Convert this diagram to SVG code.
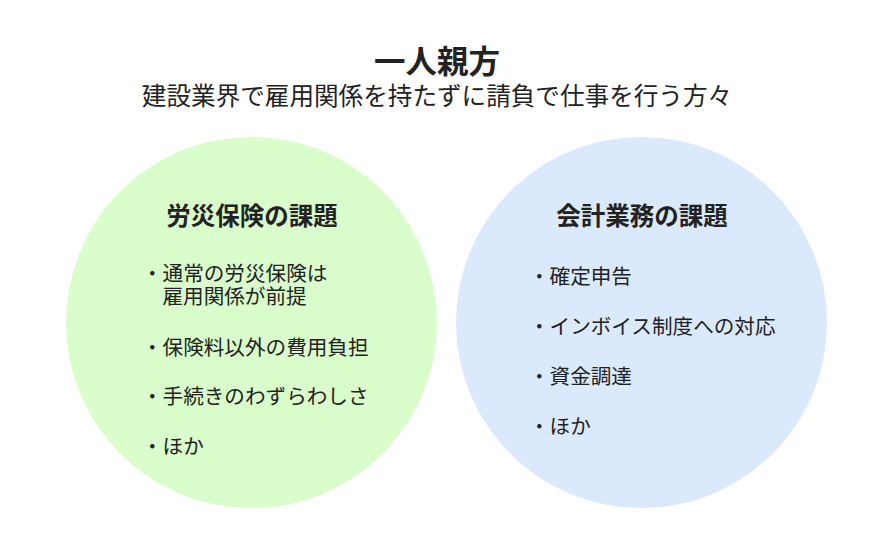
<svg xmlns="http://www.w3.org/2000/svg" width="893" height="553" viewBox="0 0 893 553">
<style>
text{font-family:"Noto Sans CJK JP","Noto Sans",sans-serif;fill:#222}
.title{font-size:31.5px;font-weight:700;text-anchor:middle}
.sub{font-size:24.6px;text-anchor:middle}
.head{font-size:24.5px;font-weight:700;text-anchor:middle}
.item{font-size:20.6px}
</style>
<rect width="893" height="553" fill="#ffffff"/>
<g id="title">
<text class="title" x="437" y="73">一人親方</text>
<text class="sub" x="437" y="105">建設業界で雇用関係を持たずに請負で仕事を行う方々</text>
</g>
<g id="rousai">
<circle cx="251.5" cy="322.5" r="185.5" fill="#d9fdcb"/>
<text class="head" x="252" y="225">労災保険の課題</text>
<text class="item" x="142" y="281">・通常の労災保険は</text>
<text class="item" x="162.5" y="304">雇用関係が前提</text>
<text class="item" x="142" y="355">・保険料以外の費用負担</text>
<text class="item" x="142" y="404">・手続きのわずらわしさ</text>
<text class="item" x="142" y="454">・ほか</text>
</g>
<g id="kaikei">
<circle cx="641.5" cy="322.5" r="185.5" fill="#dbe9fc"/>
<text class="head" x="642" y="225">会計業務の課題</text>
<text class="item" x="529" y="284">・確定申告</text>
<text class="item" x="529" y="334">・インボイス制度への対応</text>
<text class="item" x="529" y="384">・資金調達</text>
<text class="item" x="529" y="434">・ほか</text>
</g>
<g id="connectors"></g>
</svg>
